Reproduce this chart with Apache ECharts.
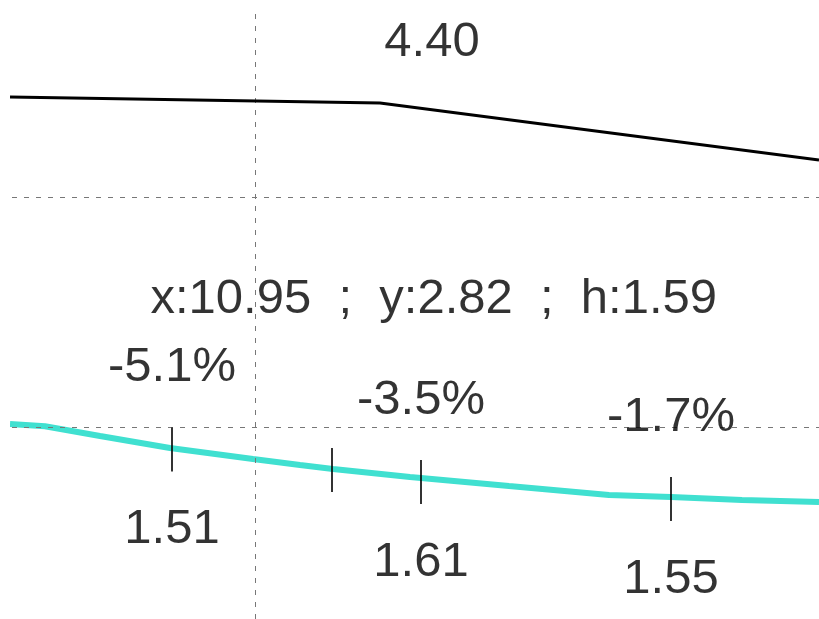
<!DOCTYPE html>
<html>
<head>
<meta charset="utf-8">
<script src="https://cdn.jsdelivr.net/npm/echarts@6/dist/echarts.min.js"></script>
<style>html,body{margin:0;padding:0;background:#fff}#c{width:819px;height:619px}</style>
</head>
<body>
<div id="c"></div>
<script>
// Visible window of the axes
const xRange = [10.575, 11.94];
const yRange = [2.16522, 4.85652];
// Grid lines
const gridX = [11];
const gridY = [3, 4];
// Black line
const blackX = [10.5917, 11.2083, 11.94];
const blackY = [4.4348, 4.4087, 4.1609];
// Turquoise line
const tealX = [10.5917, 10.65, 10.7417, 10.8583, 10.9967, 11.075, 11.13, 11.2583, 11.4233, 11.59, 11.6933, 11.8117, 11.94];
const tealY = [3.0130, 3.0030, 2.9609, 2.9087, 2.8609, 2.8348, 2.8174, 2.7826, 2.7435, 2.7043, 2.6957, 2.6826, 2.6739];
// Markers on the turquoise line
const markerX = [10.8617, 11.1283, 11.2767, 11.6933];
const markerY = [2.9022, 2.8130, 2.7609, 2.6870];
const markerTop = ['-5.1%', '', '-3.5%', '-1.7%'];
const markerBottom = ['1.51', '', '1.61', '1.55'];
// Free annotations
const annX = [11.295, 11.298];
const annY = [4.40, 3.5565];
const annText = ['4.40', 'x:10.95  ;  y:2.82  ;  h:1.59'];

const FONT = 'Liberation Sans, Arial, sans-serif';
const chart = echarts.init(document.getElementById('c'));
const zip = (a, b) => a.map((v, i) => [v, b[i]]);
const labelBase = { show: true, position: 'inside', fontFamily: FONT, fontSize: 49, color: '#000', textBorderWidth: 0 };
const hiddenAxis = (r) => ({
  type: 'value', min: r[0], max: r[1],
  axisLine: { show: false }, axisTick: { show: false }, axisLabel: { show: false },
  splitLine: { show: false }
});

chart.setOption({
  animation: false,
  backgroundColor: '#fff',
  grid: { left: 0, right: 0, top: 0, bottom: 0, containLabel: false },
  xAxis: hiddenAxis(xRange),
  yAxis: hiddenAxis(yRange),
  graphic: [
    { type: 'rect', shape: { x: 0, y: 0, width: 10, height: 619 }, style: { fill: '#fff' }, z: 100 },
    { type: 'rect', shape: { x: 0, y: 0, width: 819, height: 8 }, style: { fill: '#fff' }, z: 100 }
  ],
  series: [
    {
      type: 'line', data: [], z: 1,
      markLine: {
        silent: true, symbol: 'none', label: { show: false },
        lineStyle: { color: '#777', width: 1, type: [5, 7] },
        data: gridX.map(v => ({ xAxis: v })).concat(gridY.map(v => ({ yAxis: v })))
      }
    },
    {
      type: 'line', data: zip(blackX, blackY), showSymbol: false, symbol: 'none',
      lineStyle: { color: '#000', width: 3 }, z: 5
    },
    {
      type: 'line', data: zip(tealX, tealY), showSymbol: false, symbol: 'none',
      lineStyle: { color: '#40E0D0', width: 6 }, z: 4
    },
    {
      type: 'scatter', data: zip(markerX, markerY), symbol: 'rect', symbolSize: [2, 44],
      itemStyle: { color: '#000' }, z: 6,
      label: Object.assign({}, labelBase, { offset: [0, -82], formatter: p => markerTop[p.dataIndex] })
    },
    {
      type: 'scatter', data: zip(markerX, markerY), symbolSize: 0,
      itemStyle: { color: 'transparent' }, z: 6,
      label: Object.assign({}, labelBase, { offset: [0, 80], formatter: p => markerBottom[p.dataIndex] })
    },
    {
      type: 'scatter', symbolSize: 0,
      itemStyle: { color: 'transparent' }, z: 6,
      label: Object.assign({}, labelBase, { formatter: p => annText[p.dataIndex] }),
      data: annX.map((x, i) => ({ value: [x, annY[i]], label: { offset: i === 0 ? [0, -63] : [0, 0] } }))
    }
  ]
});
</script>
</body>
</html>
